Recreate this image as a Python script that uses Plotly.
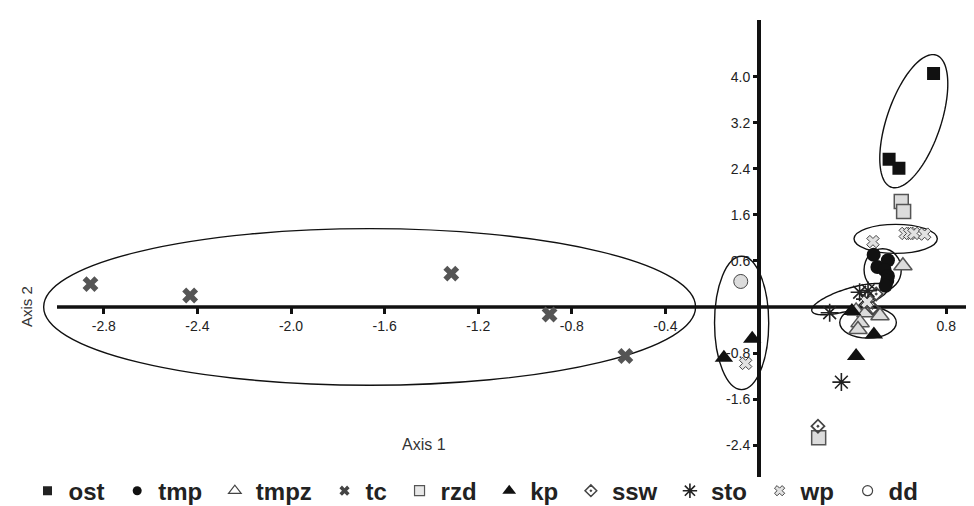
import numpy as np
import plotly.graph_objects as go

# ---------------- data (Axis 1 score, Axis 2 score) ----------------
groups = ["ost", "tmp", "tmpz", "tc", "rzd", "kp", "ssw", "sto", "wp", "dd"]

ost_x = [0.746, 0.556, 0.598]
ost_y = [4.056, 2.565, 2.410]
tmp_x = [0.490, 0.551, 0.506, 0.537, 0.551, 0.548, 0.541]
tmp_y = [0.907, 0.812, 0.693, 0.641, 0.539, 0.454, 0.369]
tmpz_x = [0.615, 0.415, 0.457, 0.517, 0.432, 0.423]
tmpz_y = [0.715, -0.068, -0.102, -0.153, -0.272, -0.390]
tc_x = [-2.857, -2.431, -1.315, -0.895, -0.571]
tc_y = [0.397, 0.199, 0.579, -0.131, -0.851]
rzd_x = [0.608, 0.618, 0.255]
rzd_y = [1.833, 1.656, -2.270]
kp_x = [-0.029, -0.150, 0.491, 0.415, 0.397]
kp_y = [-0.550, -0.880, -0.480, -0.851, -0.070]
ssw_x = [0.501, 0.485, 0.252]
ssw_y = [0.227, -0.020, -2.070]
sto_x = [0.430, 0.466, 0.453, 0.302, 0.352]
sto_y = [0.255, 0.284, 0.136, -0.100, -1.305]
wp_x = [0.487, 0.625, 0.644, 0.662, 0.708, -0.057, 0.462]
wp_y = [1.135, 1.277, 1.277, 1.277, 1.265, -0.980, 0.085]
dd_x = [-0.078]
dd_y = [0.443]

x_tick_vals = [-2.8, -2.4, -2.0, -1.6, -1.2, -0.8, -0.4, 0.8]
x_tick_text = ["-2.8", "-2.4", "-2.0", "-1.6", "-1.2", "-0.8", "-0.4", "0.8"]
y_tick_vals = [4.0, 3.2, 2.4, 1.6, 0.8, -0.8, -1.6, -2.4]
y_tick_text = ["4.0", "3.2", "2.4", "1.6", "0.6", "-0.8", "-1.6", "-2.4"]

# group outlines: axis-aligned (x0, x1, y0, y1)
ellipses_aligned = [
    (-3.057, -0.271, -1.36, 1.36),   # tc
    (-0.190, 0.0415, -1.435, 0.88),  # dd / kp
    (0.406, 0.762, 0.93, 1.435),     # wp
    (0.449, 0.608, 0.284, 1.01),     # tmp
    (0.345, 0.587, -0.54, 0.0),      # kp
]
# rotated: centre (cx, cy), semi-axis vectors (ax, ay), (bx, by)
ellipses_rotated = [
    (0.6615, 3.226, 0.0957, 1.147, 0.1094, -0.145),   # ost
    (0.389, 0.136, 0.163, 0.205, 0.0141, -0.179),     # sto
]

# ---------------- styles ----------------
styles = {
    "ost":  dict(symbol="square", color="#111111", size=13, line=dict(width=0)),
    "tmp":  dict(symbol="circle", color="#111111", size=14, line=dict(width=0)),
    "tmpz": dict(symbol="triangle-up", color="#dcdcdc", size=16, line=dict(color="#555555", width=1.5)),
    "tc":   dict(symbol="x", color="#555555", size=14, line=dict(width=0)),
    "rzd":  dict(symbol="square", color="#dcdcdc", size=14, line=dict(color="#555555", width=1.5)),
    "kp":   dict(symbol="triangle-up", color="#111111", size=16, line=dict(width=0)),
    "ssw":  dict(symbol="diamond-open-dot", color="#444444", size=10, line=dict(color="#444444", width=1.8)),
    "sto":  dict(symbol="asterisk-open", color="#222222", size=15, line=dict(color="#222222", width=1.6)),
    "wp":   dict(symbol="x", color="#e2e2e2", size=11, line=dict(color="#444444", width=1)),
    "dd":   dict(symbol="circle", color="#dcdcdc", size=14, line=dict(color="#444444", width=1)),
}
legend_styles = {
    "ost":  dict(symbol="square", color="#222222", size=9, line=dict(width=0)),
    "tmp":  dict(symbol="circle", color="#111111", size=9, line=dict(width=0)),
    "tmpz": dict(symbol="triangle-up", color="#ffffff", size=11, line=dict(color="#444444", width=1.2)),
    "tc":   dict(symbol="x", color="#444444", size=9, line=dict(width=0)),
    "rzd":  dict(symbol="square", color="#e8e8e8", size=10, line=dict(color="#555555", width=1.2)),
    "kp":   dict(symbol="triangle-up", color="#111111", size=12, line=dict(width=0)),
    "ssw":  dict(symbol="diamond-open-dot", color="#444444", size=9, line=dict(color="#444444", width=1.5)),
    "sto":  dict(symbol="asterisk-open", color="#222222", size=12, line=dict(color="#222222", width=1.6)),
    "wp":   dict(symbol="x", color="#e2e2e2", size=9, line=dict(color="#444444", width=1)),
    "dd":   dict(symbol="circle", color="#ffffff", size=10, line=dict(color="#444444", width=1.2)),
}

data_x = dict(ost=ost_x, tmp=tmp_x, tmpz=tmpz_x, tc=tc_x, rzd=rzd_x, kp=kp_x,
              ssw=ssw_x, sto=sto_x, wp=wp_x, dd=dd_x)
data_y = dict(ost=ost_y, tmp=tmp_y, tmpz=tmpz_y, tc=tc_y, rzd=rzd_y, kp=kp_y,
              ssw=ssw_y, sto=sto_y, wp=wp_y, dd=dd_y)

W, H = 974, 506
x_range = [-3.2094, 0.953]
y_range = [-2.9447, 4.9872]
y_dom = [28 / H, 494 / H]

fig = go.Figure()
for g in groups:
    fig.add_trace(go.Scatter(x=data_x[g], y=data_y[g], mode="markers", name=g,
                             marker=styles[g], showlegend=False, hoverinfo="x+y+name"))
for g in groups:
    fig.add_trace(go.Scatter(x=[None], y=[None], mode="markers", name=g + "\u00a0",
                             marker=legend_styles[g], showlegend=True))

shapes = []
for (x0, x1, y0, y1) in ellipses_aligned:
    shapes.append(dict(type="circle", xref="x", yref="y", x0=x0, x1=x1, y0=y0, y1=y1,
                       line=dict(color="#111111", width=1.4), layer="below"))
t = np.linspace(0, 2 * np.pi, 120)
for (cx, cy, ax, ay, bx, by) in ellipses_rotated:
    px = cx + np.cos(t) * ax + np.sin(t) * bx
    py = cy + np.cos(t) * ay + np.sin(t) * by
    path = "M " + " L ".join(f"{a:.4f},{b:.4f}" for a, b in zip(px, py)) + " Z"
    shapes.append(dict(type="path", xref="x", yref="y", path=path,
                       line=dict(color="#111111", width=1.4), layer="below"))
# horizontal axis line (Axis 1)
shapes.append(dict(type="line", xref="x", yref="y", x0=-3.0, x1=x_range[1], y0=0, y1=0,
                   line=dict(color="#111111", width=3.5), layer="below"))

x_pos = y_dom[0] + (0 - y_range[0]) / (y_range[1] - y_range[0]) * (y_dom[1] - y_dom[0])
y_pos = (0 - x_range[0]) / (x_range[1] - x_range[0])

fig.update_layout(
    width=W, height=H,
    margin=dict(l=0, r=0, t=0, b=0),
    paper_bgcolor="white", plot_bgcolor="white",
    shapes=shapes,
    xaxis=dict(domain=[0, 1], range=x_range, showgrid=False, zeroline=True,
               zerolinecolor="#111111", zerolinewidth=4, showline=False,
               anchor="free", position=x_pos,
               tickmode="array", tickvals=x_tick_vals, ticktext=x_tick_text,
               ticks="outside", ticklen=6, tickwidth=3, tickcolor="#111111",
               tickfont=dict(family="Liberation Sans Narrow, Arial Narrow, Liberation Sans, Arial",
                             size=14, color="#222222")),
    yaxis=dict(domain=y_dom, range=y_range, showgrid=False, zeroline=False, showline=False,
               anchor="free", position=y_pos,
               tickmode="array", tickvals=y_tick_vals, ticktext=y_tick_text,
               ticks="outside", ticklen=6, tickwidth=3, tickcolor="#111111",
               tickfont=dict(family="Liberation Sans, Arial", size=14, color="#222222")),
    legend=dict(orientation="h", x=0.019, y=0.026, xanchor="left", yanchor="middle",
                itemwidth=32,
                font=dict(family="Liberation Sans, Arial", size=24, color="#222222", weight="bold"),
                bgcolor="rgba(0,0,0,0)", itemclick=False, itemdoubleclick=False),
    annotations=[
        dict(text="Axis 1", xref="x", yref="paper", x=-1.43, y=(H - 445) / H,
             xanchor="center", yanchor="middle",
             showarrow=False, font=dict(family="Liberation Sans, Arial", size=16, color="#333333")),
        dict(text="Axis 2", xref="paper", yref="y", x=19 / W, y=0, textangle=-90,
             xanchor="center", yanchor="middle",
             showarrow=False, font=dict(family="Liberation Sans, Arial", size=15, color="#333333")),
    ],
)

fig.write_html("out.html")
